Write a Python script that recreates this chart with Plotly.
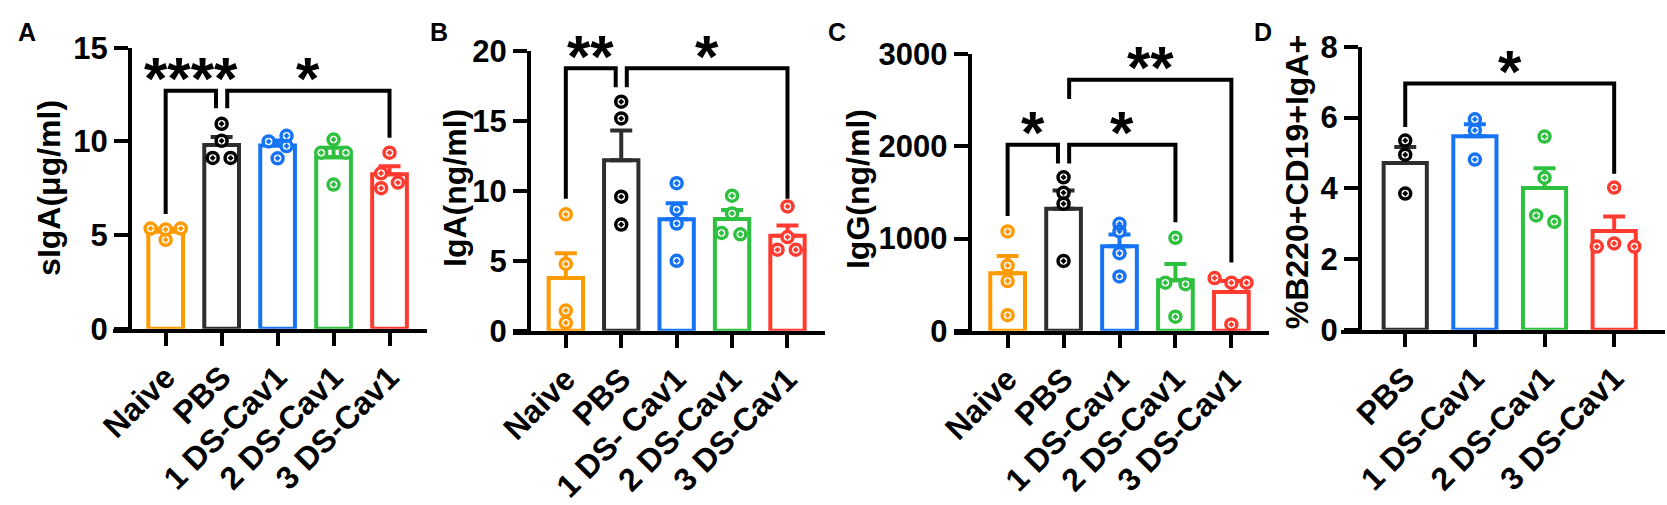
import plotly.graph_objects as go
import numpy as np

# group labels
cats_acd = ["Naive", "PBS", "1 DS-Cav1", "2 DS-Cav1", "3 DS-Cav1"]
cats_b = ["Naive", "PBS", "1 DS- Cav1", "2 DS-Cav1", "3 DS-Cav1"]
cats_d = ["PBS", "1 DS-Cav1", "2 DS-Cav1", "3 DS-Cav1"]

# A: sIgA (ug/ml), one list per group
siga_naive = [5.35, 5.3, 5.35, 4.75]
siga_pbs = [10.94, 10.03, 9.12, 9.12]
siga_1ds = [10.0, 10.3, 9.75, 9.1]
siga_2ds = [10.1, 9.4, 9.4, 7.7]
siga_3ds = [9.4, 8.3, 7.8, 7.5]

# B: IgA (ng/ml)
iga_naive = [8.33, 4.78, 1.44, 0.56]
iga_pbs = [16.4, 15.2, 9.6, 7.6]
iga_1ds = [10.56, 8.67, 7.67, 5.0]
iga_2ds = [9.67, 8.4, 7.0, 6.9]
iga_3ds = [8.9, 6.7, 5.8, 5.8]

# C: IgG (ng/ml)
igg_naive = [1076, 706, 538, 168]
igg_pbs = [1664, 1496, 1378, 756]
igg_1ds = [1160, 1076, 840, 588]
igg_2ds = [1008, 521, 504, 151]
igg_3ds = [571, 521, 521, 67]

# D: % B220+CD19+IgA+
pct_pbs = [5.35, 4.95, 3.85]
pct_1ds = [5.95, 5.64, 4.81]
pct_2ds = [5.46, 4.3, 3.23, 3.05]
pct_3ds = [4.02, 2.35, 2.44, 2.35]

# significance brackets: (left group, right group, label)
sig_a = [(0, 1, "****"), (1, 4, "*")]
sig_b = [(0, 1, "**"), (1, 4, "*")]
sig_c = [(0, 1, "*"), (1, 3, "*"), (1, 4, "**")]
sig_d = [(0, 3, "*")]

# bracket heights: (top, left leg bottom, right leg bottom)
brk_a = [(12.7, 6.13, 11.77), (12.7, 11.77, 10.2)]
brk_b = [(18.8, 9.44, 17.44), (18.8, 17.44, 9.44)]
brk_c = [(2017, 1244, 1815), (2017, 1815, 1176), (2723, 2514, 740)]
brk_d = [(6.96, 5.73, 4.41)]

ORANGE, BLACK, BLUE, GREEN, RED = "#FF9A00", "#2E2E2E", "#1673F3", "#2EC03F", "#FF3B30"
FONT = "Liberation Sans, Arial, sans-serif"
W, H = 1667, 505

# horizontal spread of the dots inside each bar (category units)
jit_a = [[-0.27, 0, 0.27, 0], [0, 0, -0.16, 0.16], [-0.16, 0.16, 0.16, 0], [0, -0.22, 0.22, 0], [0, -0.15, 0.15, -0.15]]
jit_b = [[0, 0, 0, 0], [0, 0, 0, 0], [0, 0, 0, 0], [0, 0, -0.19, 0.15], [0, 0, -0.18, 0.15]]
jit_c = [[0, 0, 0, 0], [0, 0, 0, 0], [0, 0, 0, 0], [0, -0.18, 0.18, 0], [-0.3, 0, 0.27, 0]]
jit_d = [[0, 0, 0], [0, 0, 0], [0, 0, -0.12, 0.14], [0, -0.25, 0, 0.29]]

panels = [
    dict(cats=cats_acd, vals=[siga_naive, siga_pbs, siga_1ds, siga_2ds, siga_3ds],
         colors=[ORANGE, BLACK, BLUE, GREEN, RED], jit=jit_a, sig=sig_a, brk=brk_a,
         dom=(98, 415), yax=115, top=33, bot=335, xr=(-0.94, 4.67), yr=(0, 15),
         yt=[0, 5, 10, 15], title="sIgA(μg/ml)", tpos=(34, 184), letter="A", lpos=(11, 16)),
    dict(cats=cats_b, vals=[iga_naive, iga_pbs, iga_1ds, iga_2ds, iga_3ds],
         colors=[ORANGE, BLACK, BLUE, GREEN, RED], jit=jit_b, sig=sig_b, brk=brk_b,
         dom=(502, 817), yax=518, top=37, bot=337, xr=(-0.95, 4.68), yr=(0, 20),
         yt=[0, 5, 10, 15, 20], title="IgA(ng/ml)", tpos=(443, 184), letter="B", lpos=(427, 16)),
    dict(cats=cats_acd, vals=[igg_naive, igg_pbs, igg_1ds, igg_2ds, igg_3ds],
         colors=[ORANGE, BLACK, BLUE, GREEN, RED], jit=jit_c, sig=sig_c, brk=brk_c,
         dom=(947, 1265), yax=963, top=40, bot=337, xr=(-0.96, 4.67), yr=(0, 3000),
         yt=[0, 1000, 2000, 3000], title="IgG(ng/ml)", tpos=(850, 185), letter="C", lpos=(829, 16)),
    dict(cats=cats_d, vals=[pct_pbs, pct_1ds, pct_2ds, pct_3ds],
         colors=[BLACK, BLUE, GREEN, RED], jit=jit_d, sig=sig_d, brk=brk_d,
         dom=(1338, 1665), yax=1357, top=32, bot=336, xr=(-0.92, 3.73), yr=(0, 8),
         yt=[0, 2, 4, 6, 8], title="%B220+CD19+IgA+", tpos=(1293, 178), letter="D", lpos=(1259, 16)),
]

fig = go.Figure()
shapes, annotations = [], []
layout = {}

for i, p in enumerate(panels, start=1):
    xa = "x" if i == 1 else f"x{i}"
    ya = "y" if i == 1 else f"y{i}"
    for g, (vals, col) in enumerate(zip(p["vals"], p["colors"])):
        v = np.array(vals, dtype=float)
        mean = v.mean()
        sem = v.std(ddof=1) / np.sqrt(len(v))
        fig.add_trace(go.Bar(
            x=[g], y=[mean], width=0.62, xaxis=xa, yaxis=ya, showlegend=False,
            marker=dict(color="white", line=dict(color=col, width=4)),
            error_y=dict(type="data", symmetric=False, array=[sem], arrayminus=[0],
                         color=col, thickness=4, width=11),
        ))
    for g, (vals, col) in enumerate(zip(p["vals"], p["colors"])):
        dot = "#000000" if col == BLACK else col
        xs = [g + j for j in p["jit"][g]]
        fig.add_trace(go.Scatter(
            x=xs, y=vals, mode="markers", xaxis=xa, yaxis=ya, showlegend=False,
            marker=dict(symbol="circle", size=12, color="white"), cliponaxis=False,
        ))
        fig.add_trace(go.Scatter(
            x=xs, y=vals, mode="markers", xaxis=xa, yaxis=ya, showlegend=False,
            marker=dict(symbol="circle-open-dot", size=11, color=dot, line=dict(width=3.5, color=dot)),
            cliponaxis=False,
        ))

    # brackets: legs shift 0.1 off-centre where a group is shared by two brackets
    for (g1, g2, lab), (ytop, yb1, yb2) in zip(p["sig"], p["brk"]):
        x1 = g1 + 0.1 if any(s[1] == g1 for s in p["sig"]) else g1
        x2 = g2 - 0.1 if any(s[0] == g2 for s in p["sig"]) else g2
        shapes.append(dict(type="path", xref=xa, yref=ya, layer="above",
                           path=f"M {x1},{yb1} L {x1},{ytop} L {x2},{ytop} L {x2},{yb2}",
                           line=dict(color="black", width=4)))
        annotations.append(dict(x=(x1 + x2) / 2, y=ytop, xref=xa, yref=ya, text=lab,
                                showarrow=False, yanchor="middle", yshift=12,
                                font=dict(family=FONT, size=60, color="black", weight="bold")))

    # y title and panel letter
    annotations.append(dict(x=p["tpos"][0] / W, y=1 - p["tpos"][1] / H, xref="paper", yref="paper",
                            text=p["title"], textangle=-90, showarrow=False,
                            xanchor="center", yanchor="middle",
                            font=dict(family=FONT, size=32, color="black", weight="bold")))
    annotations.append(dict(x=p["lpos"][0] / W, y=1 - p["lpos"][1] / H, xref="paper", yref="paper",
                            text=p["letter"], showarrow=False, xanchor="center", yanchor="middle",
                            font=dict(family=FONT, size=25, color="black", weight="bold")))

    axkey = "xaxis" if i == 1 else f"xaxis{i}"
    aykey = "yaxis" if i == 1 else f"yaxis{i}"
    layout[axkey] = dict(
        domain=[p["dom"][0] / W, p["dom"][1] / W], anchor=ya, range=list(p["xr"]),
        tickmode="array", tickvals=list(range(len(p["cats"]))), ticktext=p["cats"],
        tickangle=-45, ticks="outside", ticklen=13, tickwidth=4, tickcolor="black",
        showline=True, linewidth=4, linecolor="black", showgrid=False, zeroline=False,
        tickfont=dict(family=FONT, size=32, color="black", weight="bold"),
    )
    layout[aykey] = dict(
        domain=[1 - p["bot"] / H, 1 - p["top"] / H], anchor="free", position=p["yax"] / W,
        range=list(p["yr"]), tickmode="array", tickvals=p["yt"],
        ticks="outside", ticklen=14, tickwidth=4, tickcolor="black",
        showline=True, linewidth=4, linecolor="black", showgrid=False, zeroline=False,
        tickfont=dict(family=FONT, size=31, color="black", weight="bold"),
    )

fig.update_layout(
    width=W, height=H, autosize=False, margin=dict(l=0, r=0, t=0, b=0),
    paper_bgcolor="white", plot_bgcolor="white", barmode="overlay",
    shapes=shapes, annotations=annotations, **layout,
)

fig.write_html("out.html", config={"displayModeBar": False},
               post_script="document.body.style.margin='0';")
